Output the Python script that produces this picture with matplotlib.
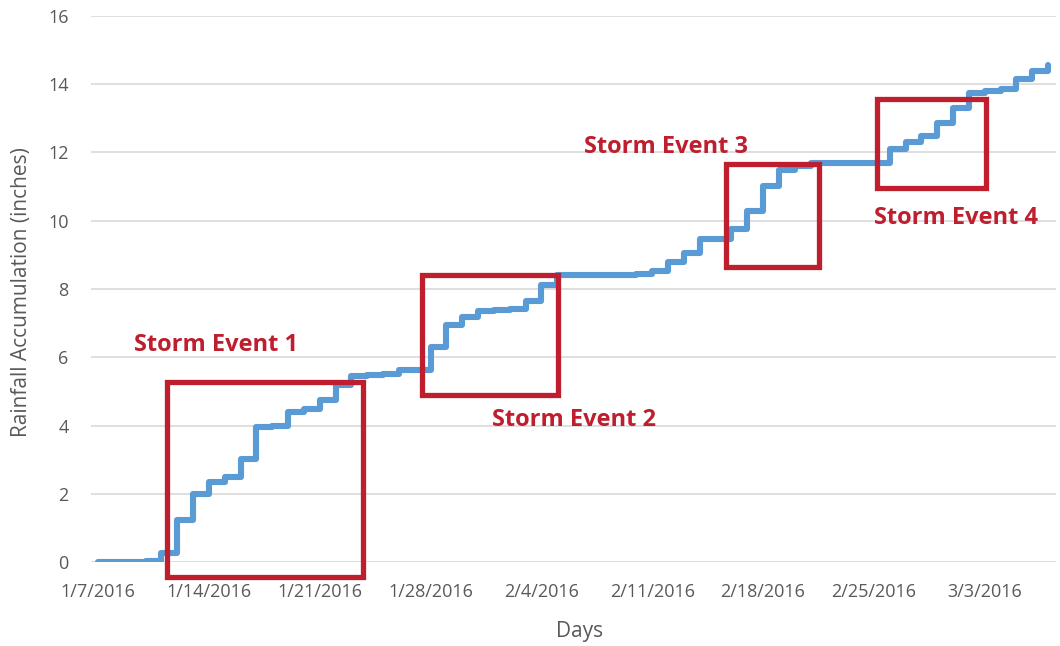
import numpy as np
import matplotlib
matplotlib.use("Agg")
import matplotlib.pyplot as plt
import matplotlib.dates as mdates
from matplotlib.patches import Rectangle

# ---- data: cumulative rainfall (inches), one value per day from 1/7/2016 ----
start_date = "2016-01-07"
rain_cum = [
    0.00, 0.00, 0.02, 0.05, 0.27, 1.23, 1.99, 2.36, 2.50, 3.01,   # 1/7 - 1/16
    3.97, 3.99, 4.39, 4.48, 4.76, 5.20, 5.46, 5.48, 5.50, 5.64,   # 1/17 - 1/26
    5.64, 6.30, 6.96, 7.18, 7.35, 7.38, 7.42, 7.66, 8.13, 8.40,   # 1/27 - 2/5
    8.41, 8.41, 8.42, 8.42, 8.43, 8.52, 8.80, 9.06, 9.47, 9.47,   # 2/6 - 2/15
    9.77, 10.29, 11.02, 11.49, 11.59, 11.68, 11.70, 11.70, 11.70, 11.70,  # 2/16 - 2/25
    12.10, 12.31, 12.47, 12.86, 13.29, 13.73, 13.80, 13.86, 14.15, 14.38,  # 2/26 - 3/6
    14.56,                                                          # 3/7
]
tick_dates = ["2016-01-07", "2016-01-14", "2016-01-21", "2016-01-28", "2016-02-04",
              "2016-02-11", "2016-02-18", "2016-02-25", "2016-03-03"]
tick_labels = ["1/7/2016", "1/14/2016", "1/21/2016", "1/28/2016", "2/4/2016",
               "2/11/2016", "2/18/2016", "2/25/2016", "3/3/2016"]
y_ticks = [0, 2, 4, 6, 8, 10, 12, 14, 16]

# storm event boxes: (start day offset, end day offset, low, high) and labels
event_labels = ["Storm Event 1", "Storm Event 2", "Storm Event 3", "Storm Event 4"]
event_boxes = [(4.37, 16.71, -0.43, 5.28),
               (20.45, 29.06, 4.90, 8.42),
               (39.67, 45.56, 8.64, 11.67),
               (49.18, 56.08, 10.96, 13.55)]
event_label_pos = [(7.45, 6.36), (30.05, 4.17), (35.86, 12.16), (54.2, 10.08)]

# ---- figure ----
plt.rcParams['font.family'] = ['Open Sans', 'DejaVu Sans']
fig = plt.figure(figsize=(10.6, 6.46), dpi=100)
ax = fig.add_axes([0.0858, 0.1296, 0.9104, 0.8461])

d0 = np.datetime64(start_date)
dates = d0 + np.arange(len(rain_cum)).astype('timedelta64[D]')
x = mdates.date2num(dates.astype('datetime64[ms]').astype(object))
x0 = x[0]

blue = '#5B9BD5'
red = '#BE1E2D'
grey_text = '#595959'

ax.plot(x, rain_cum, drawstyle='steps-post', color=blue, lw=4.4,
        solid_capstyle='round', solid_joinstyle='round', zorder=3)

for (a, b, lo, hi) in event_boxes:
    ax.add_patch(Rectangle((x0 + a, lo), b - a, hi - lo, fill=False,
                           edgecolor=red, lw=3.8, clip_on=False, zorder=4))
for lab, (px, py) in zip(event_labels, event_label_pos):
    ax.text(x0 + px, py, lab, color=red, fontsize=17, fontweight='bold',
            ha='center', va='center', zorder=5)

ax.set_xlim(x0 - 0.45, x0 + 60.5)
ax.set_ylim(0, 16)

tx = mdates.date2num([np.datetime64(t, 'ms').astype(object) for t in tick_dates])
ax.set_xticks(tx)
ax.set_xticklabels(tick_labels)
ax.set_yticks(y_ticks)
ax.set_yticklabels([str(v) for v in y_ticks])
ax.tick_params(axis='both', length=0, colors=grey_text, labelsize=13)
ax.tick_params(axis='x', pad=15)
ax.tick_params(axis='y', pad=16)

ax.grid(axis='y', color='#D9D9D9', lw=1.2)
ax.set_axisbelow(True)
for s in ax.spines.values():
    s.set_visible(False)

fig.text(22 / 1060, 1 - 292 / 646, 'Rainfall Accumulation (inches)', rotation=90,
         ha='center', va='center', fontsize=15, color=grey_text)
fig.text(580 / 1060, 1 - 632 / 646, 'Days', ha='center', va='center',
         fontsize=15, color=grey_text)

fig.savefig('out.png', dpi=100)
